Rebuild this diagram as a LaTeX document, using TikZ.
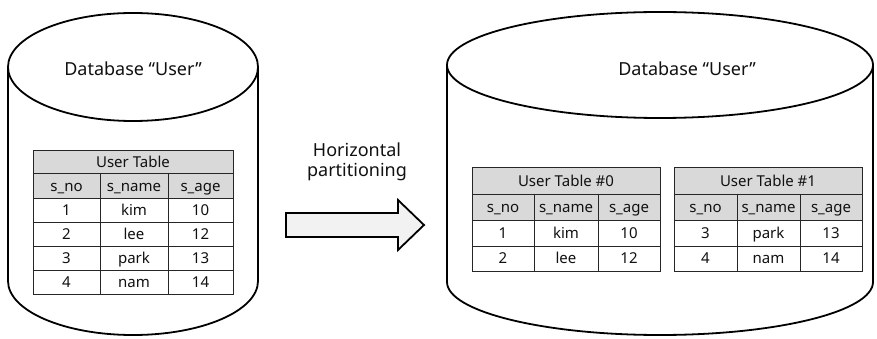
\documentclass[tikz,border=0pt]{standalone}
\usepackage{fontspec}
\setmainfont{Noto Sans}
\definecolor{hdrgray}{HTML}{D9D9D9}
\definecolor{arrowfill}{HTML}{F2F2F2}
\definecolor{txt}{HTML}{111111}
\newcommand\dbcell[7]{%
  \draw[tabline,fill=#7] (#2,#3) rectangle (#4,#5);
  \node[celltext] (#1) at ({(#2+#4)/2},{(#3+#5)/2}) {#6};}
\begin{document}
\begin{tikzpicture}[x=1pt,y=-1pt,
  outline/.style={draw=black,line width=1.8pt,fill=white},
  tabline/.style={draw=black!85,line width=1pt},
  celltext/.style={inner sep=0pt,text=txt,text height=10.7pt,text depth=0pt,font=\fontsize{15}{15}\selectfont},
  bigtext/.style={inner sep=0pt,text=txt,font=\fontsize{18}{18}\selectfont,align=center}]
\useasboundingbox (0,0) rectangle (877,339);
% left cylinder
\draw[outline] (8,67) -- (8,281) arc[start angle=180,end angle=360,x radius=125pt,y radius=54pt] -- (258,67);
\draw[outline] (133,67) ellipse[x radius=125pt,y radius=54pt];
\node[bigtext] (db1) at (133,69) {Database “User”};
% left table
\dbcell{t0title}{33}{151}{233}{174}{User Table}{hdrgray}
\dbcell{t0c1}{33}{174}{100}{198}{s\_no}{hdrgray}
\dbcell{t0c2}{100}{174}{168}{198}{s\_name}{hdrgray}
\dbcell{t0c3}{168}{174}{233}{198}{s\_age}{hdrgray}
\foreach \a/\b/\c/\ya/\yb [count=\i] in {1/kim/10/198/222,2/lee/12/222/246,3/park/13/246/270,4/nam/14/270/294}{
  \dbcell{t0r\i a}{33}{\ya}{100}{\yb}{\a}{white}
  \dbcell{t0r\i b}{100}{\ya}{168}{\yb}{\b}{white}
  \dbcell{t0r\i c}{168}{\ya}{233}{\yb}{\c}{white}
}
% arrow
\node[bigtext] (lbl) at (357,162) {Horizontal\\[2pt]partitioning};
\draw[line width=1.8pt,fill=arrowfill,line join=miter] (286,213) -- (398,213) -- (398,200) -- (424,225) -- (398,250) -- (398,237) -- (286,237) -- cycle;
% right cylinder
\draw[outline] (447,65) -- (447,282) arc[start angle=180,end angle=360,x radius=213pt,y radius=53pt] -- (873,65);
\draw[outline] (660,65) ellipse[x radius=213pt,y radius=53pt];
\node[bigtext] (db2) at (687,69) {Database “User”};
% right tables
\foreach \nm/\xa/\xb/\xc/\xd/\ttl in {t1/472/534/598/660/{User Table \#0},t2/674/737/800/862/{User Table \#1}}{
  \dbcell{\nm title}{\xa}{168}{\xd}{194}{\ttl}{hdrgray}
  \dbcell{\nm c1}{\xa}{194}{\xb}{220}{s\_no}{hdrgray}
  \dbcell{\nm c2}{\xb}{194}{\xc}{220}{s\_name}{hdrgray}
  \dbcell{\nm c3}{\xc}{194}{\xd}{220}{s\_age}{hdrgray}
}
\foreach \a/\b/\c/\ya/\yb [count=\i] in {1/kim/10/220/246,2/lee/12/246/271}{
  \dbcell{t1r\i a}{472}{\ya}{534}{\yb}{\a}{white}
  \dbcell{t1r\i b}{534}{\ya}{598}{\yb}{\b}{white}
  \dbcell{t1r\i c}{598}{\ya}{660}{\yb}{\c}{white}
}
\foreach \a/\b/\c/\ya/\yb [count=\i] in {3/park/13/220/246,4/nam/14/246/271}{
  \dbcell{t2r\i a}{674}{\ya}{737}{\yb}{\a}{white}
  \dbcell{t2r\i b}{737}{\ya}{800}{\yb}{\b}{white}
  \dbcell{t2r\i c}{800}{\ya}{862}{\yb}{\c}{white}
}
\end{tikzpicture}
\end{document}
